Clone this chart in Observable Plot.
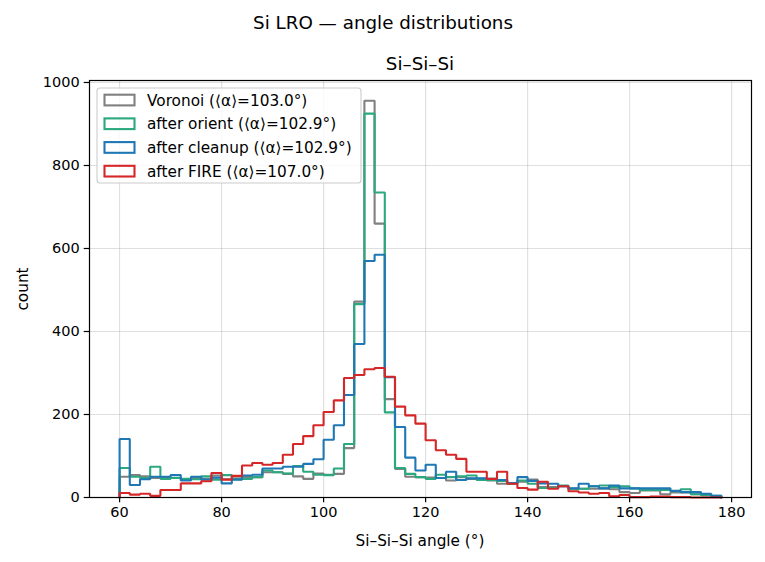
<!DOCTYPE html>
<html>
<head>
<meta charset="utf-8">
<script src="https://cdn.jsdelivr.net/npm/d3@7"></script>
<script src="https://cdn.jsdelivr.net/npm/@observablehq/plot@0.6"></script>
<style>
  html, body { margin: 0; padding: 0; background: #fff; }
  #chart { width: 765px; height: 562px; }
</style>
</head>
<body>
<div id="chart"></div>
<script>
// Si–Si–Si bond-angle histograms, 2° bins from 60° to 178°
const binStart = 60;
const binWidth = 2;

const seriesNames = [
  "Voronoi (⟨α⟩=103.0°)",
  "after orient (⟨α⟩=102.9°)",
  "after cleanup (⟨α⟩=102.9°)",
  "after FIRE (⟨α⟩=107.0°)"
];
const seriesColors = ["#808080", "#2ca87f", "#1f77b4", "#d62728"];

const voronoi = [50, 54, 51, 47, 47, 47, 44, 47, 45, 53, 44, 46, 49, 49, 61, 61, 57, 51, 45, 58,
  55, 57, 119, 472, 956, 660, 237, 69, 50, 49, 48, 47, 41, 49, 45, 45, 41, 33, 33, 38,
  43, 25, 25, 27, 21, 21, 21, 22, 20, 13, 11, 17, 17, 8, 12, 12, 8, 5, 2];
const afterOrient = [71, 50, 47, 74, 45, 47, 45, 44, 51, 43, 54, 44, 45, 49, 65, 61, 58, 76, 62, 55,
  54, 70, 129, 466, 925, 735, 205, 71, 57, 49, 45, 55, 49, 51, 53, 42, 42, 40, 33, 41,
  33, 23, 23, 29, 21, 21, 27, 29, 25, 27, 22, 18, 18, 18, 15, 20, 8, 6, 4];
const afterCleanup = [141, 30, 44, 50, 50, 54, 41, 50, 43, 48, 34, 43, 53, 55, 70, 70, 74, 74, 81, 92,
  139, 174, 247, 370, 570, 585, 290, 170, 96, 65, 79, 47, 62, 42, 46, 46, 45, 42, 35, 49,
  40, 34, 33, 27, 22, 33, 27, 22, 29, 22, 22, 22, 22, 22, 16, 13, 13, 9, 4];
const afterFire = [11, 7, 9, 4, 18, 18, 34, 34, 39, 59, 43, 52, 77, 83, 79, 83, 103, 129, 148, 174,
  206, 234, 288, 295, 309, 312, 291, 219, 198, 178, 138, 114, 103, 93, 62, 62, 45, 62, 33, 23,
  19, 38, 21, 27, 15, 12, 9, 11, 3, 6, 1, 1, 2, 2, 1, 1, 0, 0, 0];

const xTicks = [60, 80, 100, 120, 140, 160, 180];
const yTicks = [0, 200, 400, 600, 800, 1000];

const countsBySeries = [voronoi, afterOrient, afterCleanup, afterFire];

// Step outline of a histogram: rise at the first edge, fall at the last edge
function outline(counts, name) {
  const last = binStart + binWidth * counts.length;
  const pts = [{x: binStart, y: 0, name}];
  counts.forEach((c, i) => pts.push({x: binStart + binWidth * i, y: c, name}));
  pts.push({x: last, y: counts[counts.length - 1], name});
  pts.push({x: last, y: 0, name});
  return pts;
}

const font = "DejaVu Sans, sans-serif";
const tickFont = 14.5;
const labelFont = 15.3;
const titleFont = 18.3;

const stepMarks = countsBySeries.map((counts, k) =>
  Plot.line(outline(counts, seriesNames[k]), {
    x: "x", y: "y", curve: "step-after",
    stroke: seriesColors[k], strokeWidth: 2.1, strokeLinejoin: "miter"
  })
);

const chart = Plot.plot({
  width: 765,
  height: 562,
  marginLeft: 89,
  marginRight: 14,
  marginTop: 80,
  marginBottom: 65,
  style: {fontFamily: font, fontSize: tickFont + "px", background: "#fff", color: "#000"},
  x: {domain: [54.1, 183.9], label: null},
  y: {domain: [0, 1004.8], label: null},
  marks: [
    Plot.gridX(xTicks, {stroke: "#b0b0b0", strokeOpacity: 0.4, strokeWidth: 1.1}),
    Plot.gridY(yTicks, {stroke: "#b0b0b0", strokeOpacity: 0.4, strokeWidth: 1.1}),
    ...stepMarks,
    Plot.frame({stroke: "#000", strokeWidth: 1.2}),
    Plot.axisX(xTicks, {tickSize: 5.3, tickPadding: 4, stroke: "#000", strokeWidth: 1.2, fontSize: tickFont, label: null, tickFormat: d3.format("d")}),
    Plot.axisY(yTicks, {tickSize: 5.3, tickPadding: 4.5, stroke: "#000", strokeWidth: 1.2, fontSize: tickFont, label: null, tickFormat: d3.format("d")})
  ]
});

document.getElementById("chart").appendChild(chart);

// Titles, axis labels and legend
const svg = d3.select(chart);

svg.append("text")
  .attr("x", 383).attr("y", 28.5)
  .attr("text-anchor", "middle")
  .style("font-family", font).style("font-size", titleFont + "px").attr("fill", "#000")
  .text("Si LRO — angle distributions");

svg.append("text")
  .attr("x", 420).attr("y", 69.5)
  .attr("text-anchor", "middle")
  .style("font-family", font).style("font-size", titleFont + "px").attr("fill", "#000")
  .text("Si–Si–Si");

svg.append("text")
  .attr("x", 420).attr("y", 545.5)
  .attr("text-anchor", "middle")
  .style("font-family", font).style("font-size", labelFont + "px").attr("fill", "#000")
  .text("Si–Si–Si angle (°)");

svg.append("text")
  .attr("transform", "translate(27.5,289) rotate(-90)")
  .attr("text-anchor", "middle")
  .style("font-family", font).style("font-size", labelFont + "px").attr("fill", "#000")
  .text("count");

const legend = svg.append("g");
legend.append("rect")
  .attr("x", 97).attr("y", 88).attr("width", 264).attr("height", 95)
  .attr("rx", 3).attr("ry", 3)
  .attr("fill", "#fff").attr("fill-opacity", 0.8)
  .attr("stroke", "#cccccc").attr("stroke-width", 1.1);

seriesNames.forEach((name, k) => {
  const cy = 100 + k * 23.7;
  legend.append("rect")
    .attr("x", 104.5).attr("y", cy - 5.3).attr("width", 30).attr("height", 10.7)
    .attr("fill", "none").attr("stroke", seriesColors[k]).attr("stroke-width", 2.1);
  legend.append("text")
    .attr("x", 147).attr("y", cy + 5.5)
    .attr("text-anchor", "start")
    .style("font-family", font).style("font-size", labelFont + "px").attr("fill", "#000")
    .text(name);
});
</script>
</body>
</html>
